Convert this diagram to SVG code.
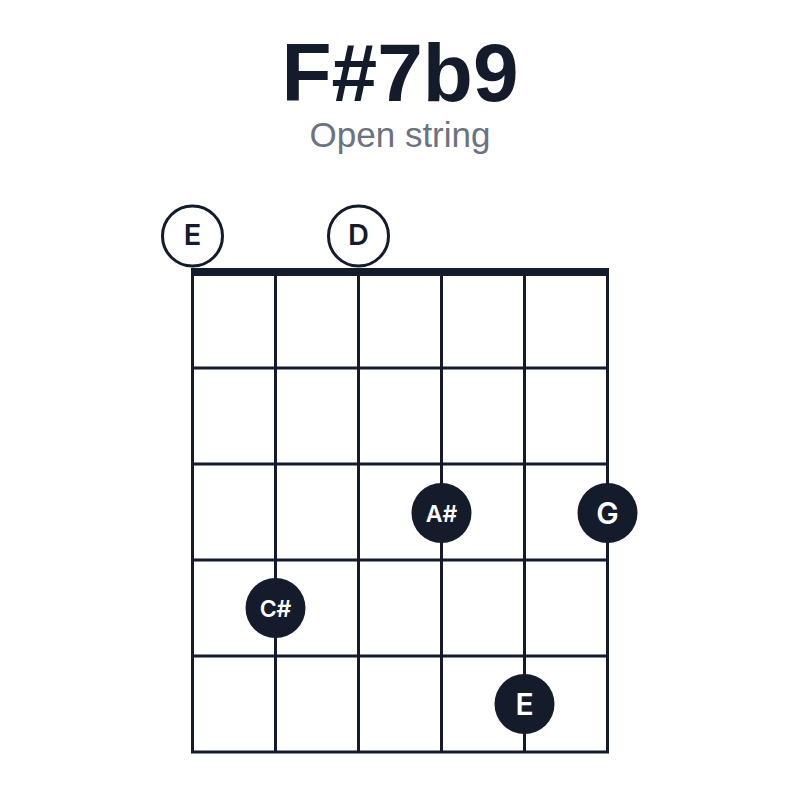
<svg xmlns="http://www.w3.org/2000/svg" width="800" height="800" viewBox="0 0 800 800">
<style>
.line{stroke:#141b2b;stroke-width:3;fill:none}
.nut{stroke:#141b2b;stroke-width:8}
.open{fill:#fff;stroke:#141b2b;stroke-width:3}
.dot{fill:#141b2b}
.t{font-family:"Liberation Sans",Arial,sans-serif;text-anchor:middle}
.lbl{font-family:Inter,"Liberation Sans",Arial,sans-serif;font-weight:600;text-anchor:middle}
.otext{fill:#141b2b;font-size:29px}
.dtext{fill:#fff}
</style>
<rect width="800" height="800" fill="#fff"/>
<text class="t" x="400" y="101" font-size="82" font-weight="bold" fill="#141b2b">F#7b9</text>
<text class="t" x="400" y="147" font-size="35" fill="#6b7280">Open string</text>
<g id="grid">
<line class="line" x1="192.5" y1="272" x2="192.5" y2="752"/>
<line class="line" x1="275.5" y1="272" x2="275.5" y2="752"/>
<line class="line" x1="358.5" y1="272" x2="358.5" y2="752"/>
<line class="line" x1="441.5" y1="272" x2="441.5" y2="752"/>
<line class="line" x1="524.5" y1="272" x2="524.5" y2="752"/>
<line class="line" x1="607.5" y1="272" x2="607.5" y2="752"/>
<line class="line" x1="191" y1="368" x2="609" y2="368"/>
<line class="line" x1="191" y1="464" x2="609" y2="464"/>
<line class="line" x1="191" y1="560" x2="609" y2="560"/>
<line class="line" x1="191" y1="656" x2="609" y2="656"/>
<line class="line" x1="191" y1="752" x2="609" y2="752"/>
<line class="nut" x1="191" y1="272" x2="609" y2="272"/>
</g>
<g id="open-E">
<circle class="open" cx="192.5" cy="236" r="30"/>
<text class="lbl otext" x="192.5" y="245">E</text>
</g>
<g id="open-D">
<circle class="open" cx="358.5" cy="236" r="30"/>
<text class="lbl otext" x="358.5" y="245">D</text>
</g>
<g id="dot-Asharp">
<circle class="dot" cx="441.5" cy="513" r="30"/>
<text class="lbl dtext" x="441.5" y="521.5" font-size="23">A#</text>
</g>
<g id="dot-G">
<circle class="dot" cx="607.5" cy="513" r="30"/>
<text class="lbl dtext" x="607.5" y="524" font-size="30">G</text>
</g>
<g id="dot-Csharp">
<circle class="dot" cx="275.5" cy="608" r="30"/>
<text class="lbl dtext" x="275.5" y="616.5" font-size="23">C#</text>
</g>
<g id="dot-E">
<circle class="dot" cx="524.5" cy="704" r="30"/>
<text class="lbl dtext" x="524.5" y="714.5" font-size="30">E</text>
</g>
</svg>
